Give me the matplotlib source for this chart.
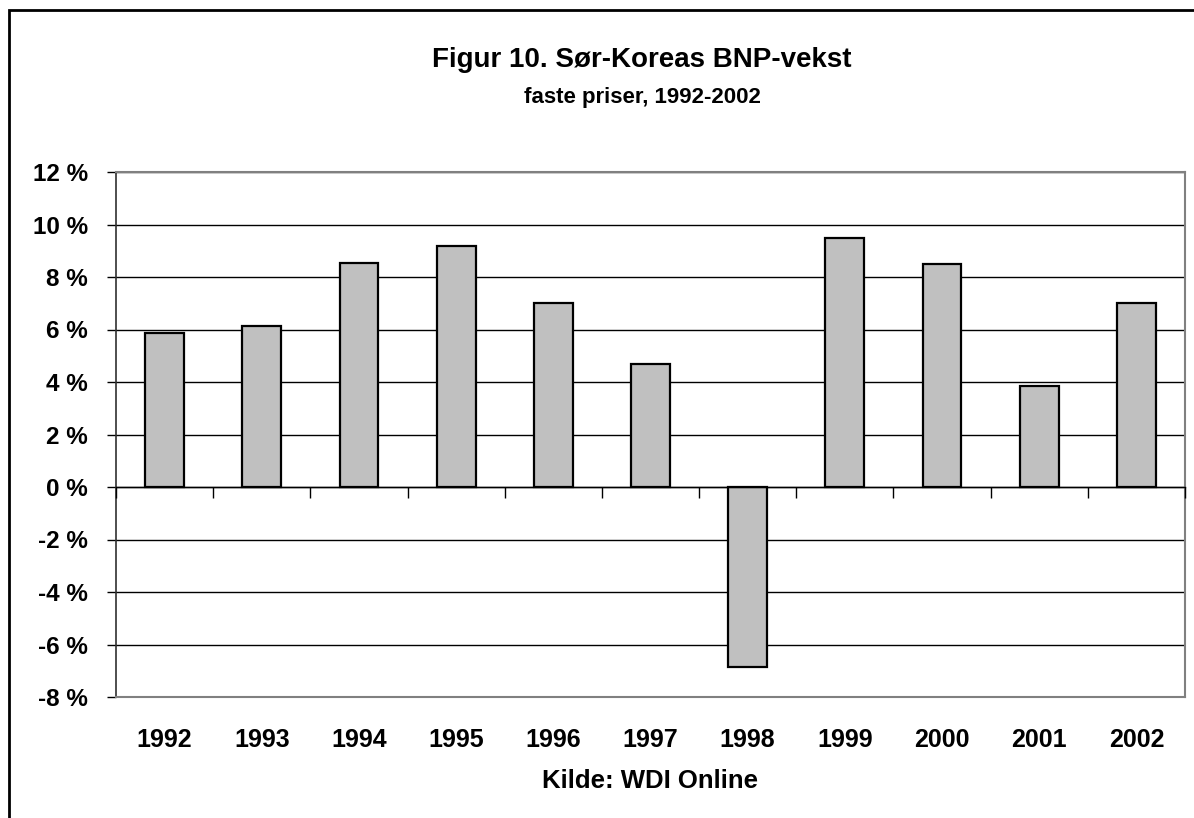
import matplotlib
matplotlib.use("Agg")
import matplotlib.pyplot as plt
from matplotlib.patches import Rectangle

years = ["1992", "1993", "1994", "1995", "1996", "1997", "1998", "1999", "2000", "2001", "2002"]
growth = [5.88, 6.13, 8.53, 9.18, 7.02, 4.68, -6.85, 9.50, 8.48, 3.85, 7.02]
yticks = [-8, -6, -4, -2, 0, 2, 4, 6, 8, 10, 12]

plt.rcParams['font.family'] = ['Liberation Sans', 'DejaVu Sans']
plt.rcParams['font.weight'] = 'bold'

W, H = 1194, 818
fig = plt.figure(figsize=(W / 100, H / 100), dpi=100)
fig.patch.set_facecolor('white')

# outer frame
fig.patches.append(Rectangle((9 / W, -0.1), 1.2, 1 - 10 / H + 0.1, transform=fig.transFigure,
                             fill=False, edgecolor='black', linewidth=2))

L, R, T, B = 116, 1185, 172, 697
ax = fig.add_axes([L / W, 1 - B / H, (R - L) / W, (B - T) / H])
x = list(range(len(years)))
ax.bar(x, growth, width=0.4, color='#C0C0C0', edgecolor='black', linewidth=1.6, zorder=3)
ax.set_xlim(-0.5, len(years) - 0.5)
ax.set_ylim(-8, 12)
ax.set_yticks(yticks)
ax.set_yticklabels([f"{v} %" for v in yticks], fontsize=17.5, fontweight='bold')
ax.yaxis.grid(True, color='black', linewidth=1)
ax.set_axisbelow(True)
ax.tick_params(axis='y', length=6.5, width=1, color='black', pad=13.5)
ax.set_xticks(x)
ax.set_xticklabels(years, fontsize=18, fontweight='bold')
ax.tick_params(axis='x', length=0, pad=22.5)
for s in ['top', 'right', 'bottom']:
    ax.spines[s].set_color('#808080')
    ax.spines[s].set_linewidth(1.5)
ax.spines['left'].set_color('#303030')
ax.spines['left'].set_linewidth(1.2)

# category axis at zero with boundary ticks
ax2 = ax.twiny()
ax2.set_xlim(ax.get_xlim())
ax2.spines['bottom'].set_position(('data', 0))
ax2.xaxis.set_ticks_position('bottom')
ax2.set_xticks([i - 0.5 for i in range(len(years) + 1)])
ax2.set_xticklabels([])
ax2.tick_params(axis='x', length=8, width=1, color='black')
ax2.spines['bottom'].set_color('black')
ax2.spines['bottom'].set_linewidth(1)
for s in ['top', 'right', 'left']:
    ax2.spines[s].set_visible(False)

cx = 642 / W
fig.text(cx, 1 - 60 / H, "Figur 10. Sør-Koreas BNP-vekst", ha='center', va='center',
         fontsize=20, fontweight='bold')
fig.text(cx, 1 - 98 / H, "faste priser, 1992-2002", ha='center', va='center',
         fontsize=16, fontweight='bold')
fig.text(650 / W, 1 - 781 / H, "Kilde: WDI Online", ha='center', va='center',
         fontsize=18.5, fontweight='bold')

fig.savefig("out.png", dpi=100)
